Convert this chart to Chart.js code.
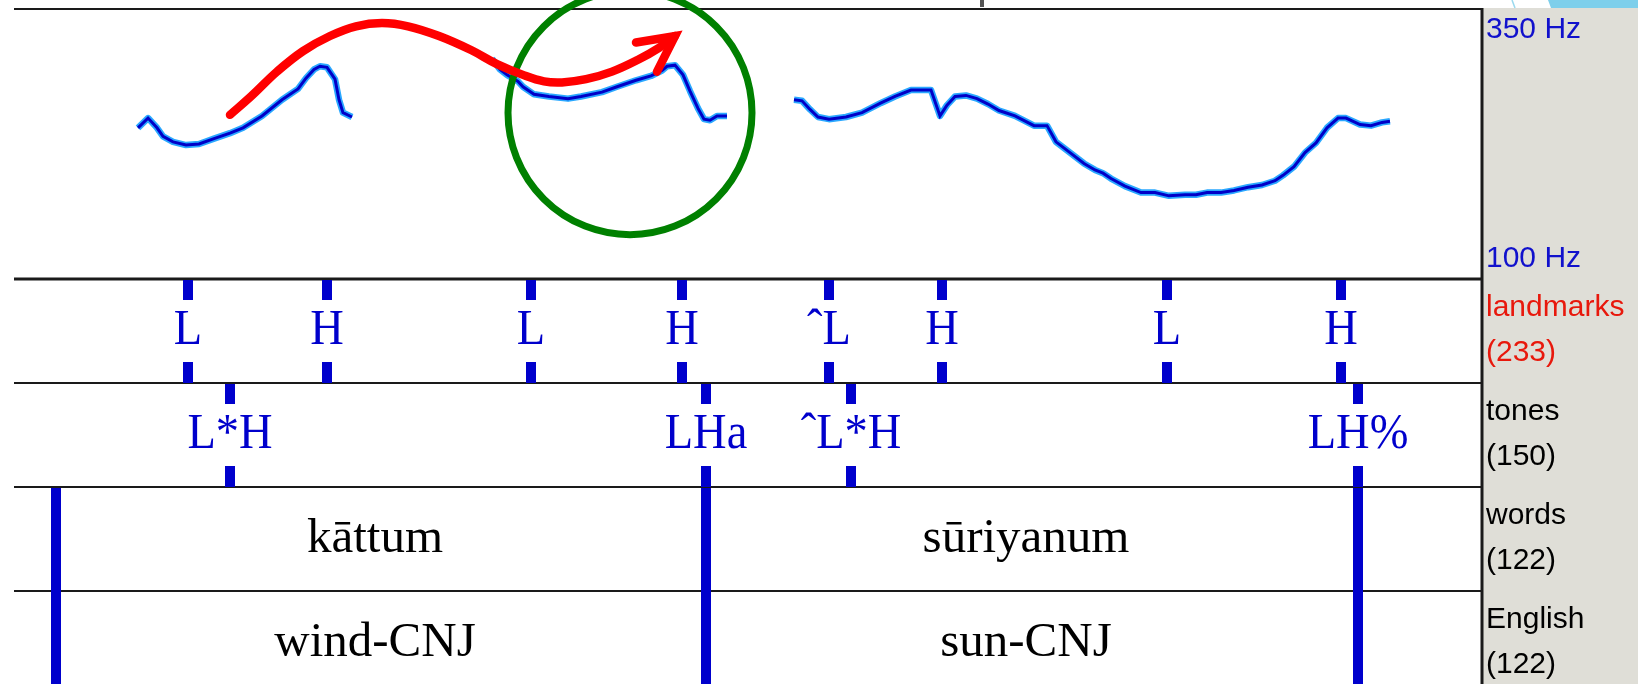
<!DOCTYPE html>
<html>
<head>
<meta charset="utf-8">
<title>Pitch track with tiers</title>
<script src="https://cdn.jsdelivr.net/npm/chart.js@4.4.1/dist/chart.umd.min.js"></script>
<style>
  html, body { margin: 0; padding: 0; background: #fff; }
  #wrap { width: 1638px; height: 684px; }
</style>
</head>
<body>
<div id="wrap"><canvas id="pitchChart" width="1638" height="684"></canvas></div>
<script>
/* =========================
   DATA (time in s, pitch in Hz)
========================= */
const pitchT1 = [0.124,0.134,0.143,0.149,0.159,0.172,0.185,0.200,0.216,0.229,0.248,0.268,0.284,0.292,0.300,0.306,0.313,0.321,0.325,0.329,0.338];
const pitchHz1 = [240,249,240,232,227,224,225,230,235,240,251,266,276,286,294,297,296,285,266,254,250];

const pitchT2 = [0.478,0.486,0.493,0.504,0.509,0.520,0.535,0.554,0.567,0.588,0.603,0.622,0.637,0.648,0.653,0.661,0.669,0.676,0.684,0.690,0.696,0.703,0.713];
const pitchHz2 = [304,294,289,283,278,271,269,267,269,273,278,284,288,293,297,298,289,274,258,248,247,251,251];

const pitchT3 = [0.780,0.788,0.796,0.804,0.815,0.832,0.848,0.867,0.881,0.897,
  0.917,0.926,0.933,0.941,0.952,0.963,0.974,0.985,1.001,1.020,
  1.033,1.042,1.056,1.070,1.081,1.089,1.097,1.111,1.127,1.141,
  1.155,1.171,1.182,1.193,1.207,1.220,1.234,1.248,1.261,1.269,
  1.280,1.291,1.302,1.313,1.324,1.332,1.346,1.357,1.368,1.376];
const pitchHz3 = [266,265,257,250,248,250,254,263,269,275,
  275,251,261,269,270,267,262,256,251,242,
  242,227,217,207,201,198,193,186,180,180,
  177,178,178,180,180,182,185,187,191,196,
  204,217,226,240,249,249,243,242,245,246];

const pitchMin = 100;
const pitchMax = 350;
const duration = 1.468;

// landmarks tier (points)
const landmarkT = [0.174,0.313,0.517,0.668,0.815,0.928,1.153,1.327];
const landmarkLabels = ["L","H","L","H","ˆL","H","L","H"];

// tones tier (points)
const toneT = [0.216,0.692,0.837,1.344];
const toneLabels = ["L*H","LHa","ˆL*H","LH%"];

// words / English tiers (intervals)
const wordBounds = [0.042,0.692,1.344];
const wordLabels = ["kāttum","sūriyanum"];
const englishLabels = ["wind-CNJ","sun-CNJ"];

const tierNames = ["landmarks","tones","words","English"];
const tierCounts = [233,150,122,122];

// annotations drawn on top (red arrow, green circle)
const arrowT = [0.216,0.237,0.263,0.289,0.316,0.342,0.368,0.394,0.425,0.457,0.483,0.509,0.530,0.548,0.572,0.598,0.624,0.645,0.661];
const arrowHz = [252,269,292,311,325,334,337,334,325,312,299,289,283,282,285,292,303,314,325];
const arrowHeadT = [0.622,0.661,0.643];
const arrowHeadHz = [319,325,292];
const circleT = 0.616;
const circleHz = 254;
const circleR = 0.122; // radius in seconds

/* =========================
   LAYOUT
========================= */
const FRAME_LEFT = 14;
const FRAME_RIGHT = 1482;
const FRAME_TOP = 9;
const PITCH_BOTTOM = 279;
const TIER_H = 104;
const BLUE = "#0000cc";
const SERIF = "Liberation Serif, Times New Roman, serif";
const SANS = "Liberation Sans, Arial, sans-serif";

function toPoints(ts, vs) {
  return ts.map((t, i) => ({ x: t, y: vs[i] }));
}

const contour = [];
[[pitchT1, pitchHz1], [pitchT2, pitchHz2], [pitchT3, pitchHz3]].forEach(([ts, hz]) => {
  contour.push(...toPoints(ts, hz));
  contour.push({ x: ts[ts.length - 1] + 0.001, y: null }); // gap between voiced parts
});

/* =========================
   TIER + FRAME PLUGIN
========================= */
const praatFrame = {
  id: "praatFrame",

  beforeDraw(chart) {
    const ctx = chart.ctx;
    const W = chart.width, H = chart.height;
    ctx.save();
    ctx.fillStyle = "#fff";
    ctx.fillRect(0, 0, W, H);

    // grey side panel
    ctx.fillStyle = "#dfded7";
    ctx.fillRect(FRAME_RIGHT + 1, FRAME_TOP - 1, W - FRAME_RIGHT, H);

    // bits of the slide behind (top right)
    ctx.fillStyle = "#7ecfeb";
    ctx.beginPath();
    ctx.moveTo(1548, 0); ctx.lineTo(W, 0); ctx.lineTo(W, 8); ctx.lineTo(1551, 8);
    ctx.closePath();
    ctx.fill();
    ctx.strokeStyle = "#9ad9ee";
    ctx.lineWidth = 1.5;
    ctx.beginPath(); ctx.moveTo(1512, 0); ctx.lineTo(1515, 8); ctx.stroke();

    // small cursor tick above the frame
    ctx.fillStyle = "#555";
    ctx.fillRect(980, 0, 4, 7);
    ctx.restore();
  },

  beforeDatasetsDraw(chart) {
    const ctx = chart.ctx;
    const x = chart.scales.x;
    ctx.save();

    // frame lines
    ctx.strokeStyle = "#1a1a1a";
    const hline = (y, w) => {
      ctx.lineWidth = w;
      ctx.beginPath(); ctx.moveTo(FRAME_LEFT, y); ctx.lineTo(FRAME_RIGHT, y); ctx.stroke();
    };
    hline(FRAME_TOP, 2);
    hline(PITCH_BOTTOM, 3);
    for (let i = 1; i < tierNames.length; i++) hline(PITCH_BOTTOM + i * TIER_H, 2);
    ctx.lineWidth = 3;
    ctx.beginPath(); ctx.moveTo(FRAME_RIGHT, FRAME_TOP - 1); ctx.lineTo(FRAME_RIGHT, chart.height); ctx.stroke();

    // point tiers
    const pointTier = (top, ts, labels) => {
      ctx.fillStyle = BLUE;
      ts.forEach((t, i) => {
        const px = x.getPixelForValue(t);
        ctx.fillRect(px - 5, top + 1, 10, 20);
        ctx.fillRect(px - 5, top + TIER_H - 21, 10, 21);
        ctx.save();
        ctx.translate(px, top + 65);
        ctx.scale(0.93, 1);
        ctx.font = "50px " + SERIF;
        ctx.textAlign = "center";
        ctx.textBaseline = "alphabetic";
        ctx.fillText(labels[i], 0, 0);
        ctx.restore();
      });
    };
    pointTier(PITCH_BOTTOM, landmarkT, landmarkLabels);
    pointTier(PITCH_BOTTOM + TIER_H, toneT, toneLabels);

    // interval tiers
    const intervalTier = (top, labels) => {
      ctx.fillStyle = BLUE;
      wordBounds.forEach(t => {
        const px = x.getPixelForValue(t);
        ctx.fillRect(px - 5, top + 1, 10, TIER_H);
      });
      ctx.fillStyle = "#000";
      ctx.font = "49px " + SERIF;
      ctx.textAlign = "center";
      labels.forEach((lab, i) => {
        const mid = (x.getPixelForValue(wordBounds[i]) + x.getPixelForValue(wordBounds[i + 1])) / 2;
        ctx.fillText(lab, mid - 6, top + 65);
      });
    };
    intervalTier(PITCH_BOTTOM + 2 * TIER_H, wordLabels);
    intervalTier(PITCH_BOTTOM + 3 * TIER_H, englishLabels);

    // side labels
    const lx = FRAME_RIGHT + 4;
    ctx.textAlign = "left";
    ctx.font = "30px " + SANS;
    ctx.fillStyle = "#1111cc";
    ctx.fillText(pitchMax + " Hz", lx, FRAME_TOP + 29);
    ctx.fillText(pitchMin + " Hz", lx, PITCH_BOTTOM - 12);
    tierNames.forEach((name, i) => {
      const top = PITCH_BOTTOM + i * TIER_H;
      ctx.fillStyle = i === 0 ? "#e8180c" : "#000";
      ctx.fillText(name, lx, top + 37);
      ctx.fillText("(" + tierCounts[i] + ")", lx, top + 82);
    });

    ctx.restore();
  },

  afterDatasetDraw(chart, args) {
    if (args.index !== 2) return; // after the dark contour, before the arrow
    const ctx = chart.ctx;
    const x = chart.scales.x, y = chart.scales.y;
    const cx = x.getPixelForValue(circleT);
    const cy = y.getPixelForValue(circleHz);
    const r = x.getPixelForValue(circleT + circleR) - cx;
    ctx.save();
    ctx.strokeStyle = "#008000";
    ctx.lineWidth = 7;
    ctx.beginPath();
    ctx.arc(cx, cy, r, 0, Math.PI * 2);
    ctx.stroke();
    ctx.restore();
  }
};

/* =========================
   CHART
========================= */
(function initChart() {
  const canvas = document.getElementById("pitchChart");

  new Chart(canvas, {
    type: "line",
    data: {
      datasets: [
        {
          label: "arrow",
          data: toPoints(arrowT, arrowHz),
          borderColor: "#ff0000",
          borderWidth: 8.5,
          borderCapStyle: "round",
          borderJoinStyle: "round",
          tension: 0.4,
          pointRadius: 0,
          clip: false
        },
        {
          label: "arrow head",
          data: toPoints(arrowHeadT, arrowHeadHz),
          borderColor: "#ff0000",
          borderWidth: 8.5,
          borderCapStyle: "round",
          borderJoinStyle: "miter",
          tension: 0,
          pointRadius: 0,
          clip: false
        },
        {
          label: "F0",
          data: contour,
          borderColor: "#0000c8",
          borderWidth: 3,
          tension: 0,
          spanGaps: false,
          pointRadius: 0
        },
        {
          label: "F0 halo",
          data: contour,
          borderColor: "#2aa8ff",
          borderWidth: 6.5,
          borderJoinStyle: "round",
          tension: 0,
          spanGaps: false,
          pointRadius: 0
        }
      ]
    },
    options: {
      responsive: false,
      animation: false,
      parsing: false,
      layout: {
        padding: {
          left: FRAME_LEFT,
          right: 1638 - FRAME_RIGHT,
          top: FRAME_TOP,
          bottom: 684 - PITCH_BOTTOM
        }
      },
      plugins: {
        legend: { display: false },
        tooltip: { enabled: false }
      },
      scales: {
        x: { type: "linear", min: 0, max: duration, display: false },
        y: { type: "linear", min: pitchMin, max: pitchMax, display: false }
      }
    },
    plugins: [praatFrame]
  });
})();
</script>
</body>
</html>
